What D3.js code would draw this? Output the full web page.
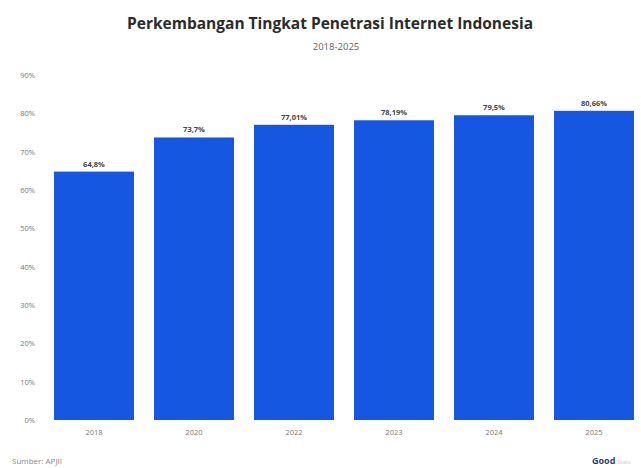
<!DOCTYPE html>
<html>
<head>
<meta charset="utf-8">
<script src="https://cdn.jsdelivr.net/npm/d3@7"></script>
<style>
  body { margin: 0; background: #fff; }
  text { font-family: "Open Sans", "Noto Sans", sans-serif; }
</style>
</head>
<body>
<svg id="chart"></svg>
<script>
var width = 641, height = 468;

// data
var years = ["2018", "2020", "2022", "2023", "2024", "2025"];
var penetration = [64.8, 73.7, 77.01, 78.19, 79.5, 80.66];
var valueLabels = ["64,8%", "73,7%", "77,01%", "78,19%", "79,5%", "80,66%"];
var yTicks = [0, 10, 20, 30, 40, 50, 60, 70, 80, 90];

var svg = d3.select("#chart")
    .attr("width", width)
    .attr("height", height);

var x = d3.scaleBand()
    .domain(years)
    .range([44, 644])
    .paddingInner(0.2)
    .paddingOuter(0.1);

var y = d3.scaleLinear()
    .domain([0, 90])
    .range([420, 75]);

// title
svg.append("text")
    .attr("x", 330)
    .attr("y", 29)
    .attr("text-anchor", "middle")
    .style("font-size", "15.5px")
    .style("font-weight", "bold")
    .style("fill", "#2b2b2b")
    .text("Perkembangan Tingkat Penetrasi Internet Indonesia");

svg.append("text")
    .attr("x", 336)
    .attr("y", 50)
    .attr("text-anchor", "middle")
    .style("font-size", "9.5px")
    .style("fill", "#666")
    .text("2018-2025");

// y axis labels
var yAxis = d3.axisLeft(y)
    .tickValues(yTicks)
    .tickFormat(d => d + "%")
    .tickSize(0)
    .tickPadding(0);

svg.append("g")
    .attr("transform", "translate(35,0)")
    .call(yAxis)
    .call(g => g.select(".domain").remove())
    .call(g => g.selectAll("text")
        .style("font-family", "\"Open Sans\", sans-serif")
        .style("font-size", "7.5px")
        .style("fill", "#777"));

// x axis labels
var xAxis = d3.axisBottom(x).tickSize(0).tickPadding(10);

svg.append("g")
    .attr("transform", "translate(0,420)")
    .call(xAxis)
    .call(g => g.select(".domain").remove())
    .call(g => g.selectAll("text")
        .style("font-family", "\"Open Sans\", sans-serif")
        .style("font-size", "7.5px")
        .style("fill", "#777"));

// bars
svg.append("g")
  .selectAll("rect")
  .data(years)
  .join("rect")
    .attr("x", d => x(d))
    .attr("width", x.bandwidth())
    .attr("y", (d, i) => y(penetration[i]))
    .attr("height", (d, i) => y(0) - y(penetration[i]))
    .attr("fill", "#1557e0");

// value labels
svg.append("g")
  .selectAll("text")
  .data(years)
  .join("text")
    .attr("x", d => x(d) + x.bandwidth() / 2)
    .attr("y", (d, i) => y(penetration[i]) - 5)
    .attr("text-anchor", "middle")
    .style("font-size", "7.5px")
    .style("font-weight", "bold")
    .style("fill", "#444")
    .text((d, i) => valueLabels[i]);

// source
svg.append("text")
    .attr("x", 12)
    .attr("y", 464)
    .style("font-size", "8px")
    .style("fill", "#888")
    .text("Sumber: APJII");

// logo
svg.append("text")
    .attr("x", 592)
    .attr("y", 464)
    .style("font-size", "9px")
    .style("font-weight", "bold")
    .style("fill", "#2a3f7a")
    .text("Good");
svg.append("text")
    .attr("x", 617)
    .attr("y", 464)
    .style("font-size", "6px")
    .style("fill", "#ccc")
    .text("Stats");
</script>
</body>
</html>
